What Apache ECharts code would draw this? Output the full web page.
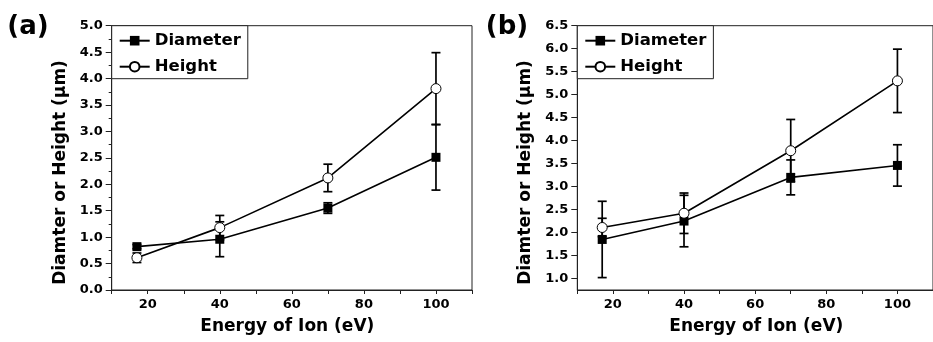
<!DOCTYPE html>
<html><head><meta charset="utf-8">
<script src="https://cdn.jsdelivr.net/npm/echarts@6/dist/echarts.min.js"></script>
<style>html,body{margin:0;padding:0;background:#fff}#c{width:933px;height:342px}</style>
</head><body><div id="c"></div>
<script>
// ---- data ----
const energies = [17, 40, 70, 100];
const diamA = [0.82, 0.96, 1.55, 2.51];
const diamAErr = [0.04, 0.33, 0.10, 0.62];
const heightA = [0.61, 1.18, 2.12, 3.81];
const heightAErr = [0.09, 0.23, 0.26, 0.68];
const diamB = [1.85, 2.25, 3.20, 3.46];
const diamBErr = [0.83, 0.56, 0.38, 0.45];
const heightB = [2.11, 2.42, 3.78, 5.30];
const heightBErr = [0.20, 0.44, 0.68, 0.69];
const xLabels = [20, 40, 60, 80, 100];
const xTicks = [10, 20, 30, 40, 50, 60, 70, 80, 90, 100, 110];
const yLabelsB = [1.0, 1.5, 2.0, 2.5, 3.0, 3.5, 4.0, 4.5, 5.0, 5.5, 6.0, 6.5];

const FONT = 'DejaVu Sans';
const pts = (xs, ys) => xs.map((x, i) => [x, ys[i]]);
const errPts = (xs, ys, es) => xs.map((x, i) => [x, ys[i], es[i]]);

function errRender(params, api) {
  const x = api.value(0), y = api.value(1), e = api.value(2);
  const top = api.coord([x, y + e]);
  const bot = api.coord([x, y - e]);
  const hw = 4.5;
  const st = { stroke: '#000', lineWidth: 1.7 };
  return { type: 'group', children: [
    { type: 'line', shape: { x1: top[0], y1: top[1], x2: bot[0], y2: bot[1] }, style: st },
    { type: 'line', shape: { x1: top[0] - hw, y1: top[1], x2: top[0] + hw, y2: top[1] }, style: st },
    { type: 'line', shape: { x1: bot[0] - hw, y1: bot[1], x2: bot[0] + hw, y2: bot[1] }, style: st }
  ]};
}

const axisLine = { show: true, lineStyle: { color: '#222', width: 1 } };
const labelStyle = { color: '#000', fontFamily: FONT, fontWeight: 'bold', fontSize: 13 };

function xAxis(gi) {
  return {
    type: 'value', gridIndex: gi, min: 10, max: 110,
    axisLine: axisLine, splitLine: { show: false },
    axisTick: { show: true, inside: false, length: 4, customValues: xTicks, lineStyle: { color: '#222' } },
    axisLabel: Object.assign({ margin: 8, customValues: xLabels }, labelStyle)
  };
}

function diamSeries(xi, yi, data) {
  return { name: 'Diameter', type: 'line', xAxisIndex: xi, yAxisIndex: yi, data: data,
    symbol: 'rect', symbolSize: 9, z: 5,
    lineStyle: { color: '#000', width: 1.6 },
    itemStyle: { color: '#000', borderColor: '#000', borderWidth: 0 } };
}
function heightSeries(xi, yi, data) {
  return { name: 'Height', type: 'line', xAxisIndex: xi, yAxisIndex: yi, data: data,
    symbol: 'circle', symbolSize: 10, z: 6,
    lineStyle: { color: '#000', width: 1.6 },
    itemStyle: { color: '#fff', borderColor: '#000', borderWidth: 1 } };
}
function errSeries(xi, yi, data) {
  return { type: 'custom', xAxisIndex: xi, yAxisIndex: yi, data: data, renderItem: errRender,
    encode: { x: 0, y: 1 }, z: 3, silent: true };
}
function legend(left) {
  return {
    left: left, top: 25.7, orient: 'vertical', data: ['Diameter', 'Height'],
    itemWidth: 30, itemHeight: 12, itemGap: 6, padding: [5, 7, 2, 7],
    borderColor: '#222', borderWidth: 1, backgroundColor: '#fff',
    selectedMode: false,
    textStyle: { color: '#000', fontFamily: FONT, fontWeight: 'bold', fontSize: 16.5, lineHeight: 20 }
  };
}

const chart = echarts.init(document.getElementById('c'), null, { renderer: 'canvas' });
chart.setOption({
  animation: false,
  backgroundColor: '#fff',
  grid: [
    { left: 111.7, top: 25.7, width: 360.3, height: 264.3, show: true, borderColor: '#222', borderWidth: 1, backgroundColor: 'transparent' },
    { left: 577.3, top: 25.7, width: 359.5, height: 264.3, show: true, borderColor: '#222', borderWidth: 1, backgroundColor: 'transparent' }
  ],
  xAxis: [xAxis(0), xAxis(1)],
  yAxis: [
    { type: 'value', gridIndex: 0, min: 0, max: 5, interval: 0.5,
      axisLine: axisLine, splitLine: { show: false },
      axisTick: { show: true, length: 6, lineStyle: { color: '#222' } },
      minorTick: { show: true, splitNumber: 2, length: 3, lineStyle: { color: '#222' } },
      axisLabel: Object.assign({ margin: 9, formatter: v => v.toFixed(1) }, labelStyle) },
    { type: 'value', gridIndex: 1, min: 0.75, max: 6.5,
      axisLine: axisLine, splitLine: { show: false },
      axisTick: { show: true, length: 6, customValues: yLabelsB, lineStyle: { color: '#222' } },
      axisLabel: Object.assign({ margin: 9, customValues: yLabelsB, formatter: v => v.toFixed(1) }, labelStyle) },
    { type: 'value', gridIndex: 1, min: 0.75, max: 6.5, interval: 0.25,
      axisLine: { show: false }, splitLine: { show: false }, axisLabel: { show: false },
      axisTick: { show: true, length: 3, lineStyle: { color: '#222' } } }
  ],
  legend: [legend(111.7), legend(577.3)],
  series: [
    errSeries(0, 0, errPts(energies, diamA, diamAErr)),
    errSeries(0, 0, errPts(energies, heightA, heightAErr)),
    diamSeries(0, 0, pts(energies, diamA)),
    heightSeries(0, 0, pts(energies, heightA)),
    errSeries(1, 1, errPts(energies, diamB, diamBErr)),
    errSeries(1, 1, errPts(energies, heightB, heightBErr)),
    diamSeries(1, 1, pts(energies, diamB)),
    heightSeries(1, 1, pts(energies, heightB))
  ],
  graphic: [
    { type: 'text', x: 28, y: 27, style: { text: '(a)', font: 'bold 26px "DejaVu Sans"', fill: '#000', align: 'center', verticalAlign: 'middle' } },
    { type: 'text', x: 507, y: 27, style: { text: '(b)', font: 'bold 26px "DejaVu Sans"', fill: '#000', align: 'center', verticalAlign: 'middle' } },
    { type: 'text', x: 61, y: 172.5, rotation: Math.PI / 2, style: { text: 'Diamter or Height (μm)', font: 'bold 17px "DejaVu Sans"', fill: '#000', align: 'center', verticalAlign: 'middle' } },
    { type: 'text', x: 526, y: 172.5, rotation: Math.PI / 2, style: { text: 'Diamter or Height (μm)', font: 'bold 17px "DejaVu Sans"', fill: '#000', align: 'center', verticalAlign: 'middle' } },
    { type: 'text', x: 287.3, y: 327, style: { text: 'Energy of Ion (eV)', font: 'bold 17px "DejaVu Sans"', fill: '#000', align: 'center', verticalAlign: 'middle' } },
    { type: 'text', x: 756.3, y: 327, style: { text: 'Energy of Ion (eV)', font: 'bold 17px "DejaVu Sans"', fill: '#000', align: 'center', verticalAlign: 'middle' } }
  ]
});
</script></body></html>
